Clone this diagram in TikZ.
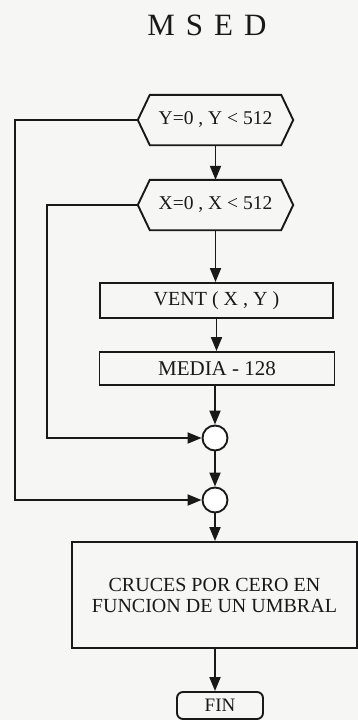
\documentclass[tikz,border=0pt]{standalone}
\usepackage{fontspec}
\setmainfont{Liberation Serif}
\usetikzlibrary{arrows.meta}
\definecolor{ink}{RGB}{25,25,25}
\definecolor{paper}{RGB}{246,246,244}
\begin{document}
\begin{tikzpicture}[x=1pt,y=-1pt,
  every node/.style={text=ink},
  ln/.style={draw=ink,line width=1.9pt},
  arr/.style={ln,-{Triangle[length=14pt,width=11pt]}},
  hexbox/.style={draw=none,minimum width=155pt,minimum height=50pt,inner sep=0pt,font=\fontsize{19.5}{21}\selectfont},
  procbox/.style={ln,rectangle,inner sep=0pt,font=\fontsize{20}{22}\selectfont},
  joint/.style={ln,circle,minimum size=25pt,inner sep=0pt,fill=white},
  finbox/.style={ln,rectangle,rounded corners=6pt,minimum width=86pt,minimum height=27pt,inner sep=0pt,font=\fontsize{19}{20}\selectfont}
]
\useasboundingbox (0,0) rectangle (358,720);
\fill[paper] (0,0) rectangle (358,720);

\node (title) at (207,25) {\fontsize{31}{34}\selectfont M\hspace{11pt}S\hspace{11pt}E\hspace{11pt}D};

\node[hexbox] (h1) at (215.5,120) {Y=0 , Y < 512};
\draw[ln,line join=miter] (h1.west) -- ([xshift=12pt]h1.north west) -- ([xshift=-12pt]h1.north east) -- (h1.east) -- ([xshift=-12pt]h1.south east) -- ([xshift=12pt]h1.south west) -- cycle;

\node[hexbox] (h2) at (215.5,205) {X=0 , X < 512};
\draw[ln,line join=miter] (h2.west) -- ([xshift=12pt]h2.north west) -- ([xshift=-12pt]h2.north east) -- (h2.east) -- ([xshift=-12pt]h2.south east) -- ([xshift=12pt]h2.south west) -- cycle;

\node[procbox,minimum width=233pt,minimum height=35pt] (vent) at (216.5,300.5) {VENT ( X , Y )};
\node[procbox,minimum width=235pt,minimum height=33pt,font=\fontsize{21}{22}\selectfont] (media) at (217,368.5) {MEDIA - 128};
\node[joint] (c1) at (215,438) {};
\node[joint] (c2) at (215,500) {};
\node[procbox,minimum width=285pt,minimum height=106pt,align=center,font=\fontsize{20}{21}\selectfont] (big) at (214.5,595) {CRUCES POR CERO EN\\FUNCION DE UN UMBRAL};
\node[finbox] (fin) at (220,705.5) {FIN};

\coordinate (l1a) at (15,120);
\coordinate (l1b) at (15,500);
\coordinate (l2a) at (47,205);
\coordinate (l2b) at (47,438);

\draw[arr] (h1.south) -- (h1.south |- h2.north);
\draw[arr] (h2.south) -- (h2.south |- vent.north);
\draw[arr] (vent.south) -- (vent.south |- media.north);
\draw[arr] (c1.north |- media.south) -- (c1.north);
\draw[arr] (c1.south) -- (c2.north);
\draw[arr] (c2.south) -- (c2.south |- big.north);
\draw[arr] (c2.south |- big.south) -- (c2.south |- fin.north);

\draw[arr] (h1.west) -- (l1a) -- (l1b) -- (c2.west);
\draw[arr] (h2.west) -- (l2a) -- (l2b) -- (c1.west);
\end{tikzpicture}
\end{document}
